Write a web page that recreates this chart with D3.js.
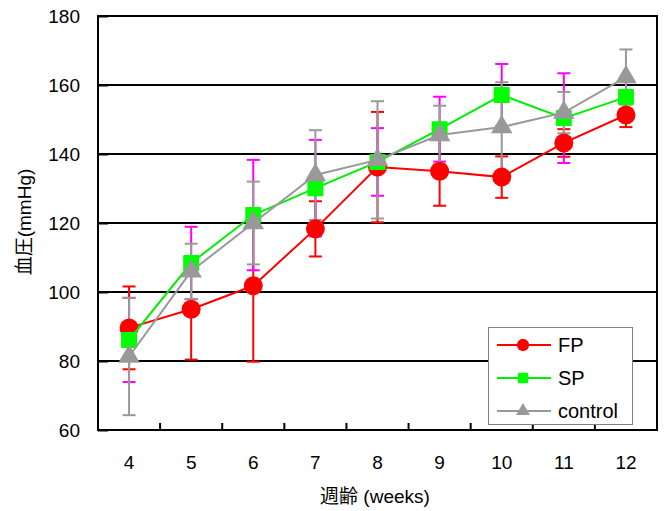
<!DOCTYPE html>
<html>
<head>
<meta charset="utf-8">
<script src="https://cdn.jsdelivr.net/npm/d3@7"></script>
<style>
body { margin: 0; background: #fff; }
text { font-family: "Liberation Sans", Arial, "Noto Sans CJK JP", sans-serif; }
</style>
</head>
<body>
<script>
// data
var weeks = ["4","5","6","7","8","9","10","11","12"];
var fp     = [89.6, 95.0, 101.8, 118.3, 136.2, 135.0, 133.3, 143.2, 151.3];
var fpErr  = [12, 14.6, 22, 8, 16, 10, 6, 4, 3.5];
var sp     = [86.1, 108.4, 122.3, 130.1, 137.7, 147.2, 157.1, 150.4, 156.5];
var spErr  = [12.2, 10.5, 16, 14, 9.8, 9.4, 9, 13, 5.3];
var ctl    = [81.3, 106.0, 120.0, 133.9, 138.3, 145.5, 147.8, 152.0, 162.3];
var ctlErr = [17, 8, 12, 13, 17, 8.5, 13, 6, 8];
var yTicks = [60, 80, 100, 120, 140, 160, 180];

var width = 664, height = 511;
var pLeft = 98, pRight = 657, pTop = 16, pBottom = 430;

var svg = d3.select("body").append("svg")
  .attr("width", width)
  .attr("height", height);

var x = d3.scaleBand().domain(weeks).range([pLeft, pRight]).padding(0);
var y = d3.scaleLinear().domain([60, 180]).range([pBottom, pTop]);
var cx = function(d, i){ return x(weeks[i]) + x.bandwidth()/2; };

// grid lines
svg.append("g").selectAll("line").data(yTicks.slice(1, -1)).enter().append("line")
  .attr("x1", pLeft).attr("x2", pRight)
  .attr("y1", d => y(d)).attr("y2", d => y(d))
  .attr("stroke", "#000").attr("stroke-width", 2);

// y axis
var yAxis = d3.axisLeft(y).tickValues(yTicks).tickSizeInner(-10).tickSizeOuter(0).tickPadding(18);
var gy = svg.append("g").attr("transform", "translate(" + pLeft + ",0)").call(yAxis);
gy.selectAll("line").attr("stroke", "#000").attr("stroke-width", 2);
gy.select(".domain").remove();
gy.selectAll("text").attr("font-size", 19).attr("fill", "#000")
  .style("font-family", '"Liberation Sans", Arial, sans-serif');

// x axis labels
var xAxis = d3.axisBottom(x).tickSize(0).tickPadding(26);
var gx = svg.append("g").attr("transform", "translate(0," + pBottom + ")").call(xAxis);
gx.select(".domain").remove();
gx.selectAll("text").attr("font-size", 19).attr("fill", "#000")
  .style("font-family", '"Liberation Sans", Arial, sans-serif');

// x ticks at category boundaries
svg.append("g").selectAll("line").data(weeks.slice(1)).enter().append("line")
  .attr("x1", d => x(d)).attr("x2", d => x(d))
  .attr("y1", pBottom).attr("y2", pBottom - 7)
  .attr("stroke", "#000").attr("stroke-width", 2);

// plot frame
svg.append("rect")
  .attr("x", pLeft).attr("y", pTop)
  .attr("width", pRight - pLeft).attr("height", pBottom - pTop)
  .attr("fill", "none").attr("stroke", "#000").attr("stroke-width", 2);

var series = [
  {vals: fp,  err: fpErr,  line: "#ff0000", bar: "#ff0000", fill: "#ff0000", sym: "circle"},
  {vals: sp,  err: spErr,  line: "#00ee00", bar: "#ff00ff", fill: "#00ff00", sym: "square"},
  {vals: ctl, err: ctlErr, line: "#999999", bar: "#999999", fill: "#999999", sym: "triangle"}
];

// error bars
series.forEach(function(s){
  var g = svg.append("g").attr("stroke", s.bar).attr("stroke-width", 2);
  s.vals.forEach(function(v, i){
    var px = cx(v, i), lo = y(v - s.err[i]), hi = y(v + s.err[i]);
    g.append("line").attr("x1", px).attr("x2", px).attr("y1", lo).attr("y2", hi);
    g.append("line").attr("x1", px - 6.5).attr("x2", px + 6.5).attr("y1", lo).attr("y2", lo);
    g.append("line").attr("x1", px - 6.5).attr("x2", px + 6.5).attr("y1", hi).attr("y2", hi);
  });
});

var line = d3.line().x(cx).y(d => y(d));

function marker(g, s, px, py, scale){
  if (s.sym === "circle") {
    g.append("circle").attr("cx", px).attr("cy", py).attr("r", 9.5 * scale).attr("fill", s.fill);
  } else if (s.sym === "square") {
    var h = 8 * scale;
    g.append("rect").attr("x", px - h).attr("y", py - h).attr("width", 2*h).attr("height", 2*h)
      .attr("rx", 1).attr("fill", s.fill);
  } else {
    g.append("path").attr("transform", "translate(" + px + "," + py + ")")
      .attr("d", d3.symbol().type(d3.symbolTriangle).size(200 * scale * scale)).attr("fill", s.fill);
  }
}

series.forEach(function(s){
  svg.append("path").datum(s.vals)
    .attr("d", line).attr("fill", "none")
    .attr("stroke", s.line).attr("stroke-width", 2);
  var g = svg.append("g");
  s.vals.forEach(function(v, i){ marker(g, s, cx(v, i), y(v), 1); });
});

// legend
var names = ["FP", "SP", "control"];
var lg = svg.append("g");
lg.append("rect").attr("x", 488.5).attr("y", 327.5).attr("width", 144).attr("height", 97)
  .attr("fill", "#fff").attr("stroke", "#808080").attr("stroke-width", 1);
series.forEach(function(s, i){
  var ly = 345 + i * 33;
  lg.append("line").attr("x1", 497).attr("x2", 551).attr("y1", ly).attr("y2", ly)
    .attr("stroke", s.line).attr("stroke-width", 2);
  marker(lg, s, 523, ly, 0.65);
  lg.append("text").attr("x", 558).attr("y", ly + 7).attr("font-size", 20).text(names[i]);
});

// axis titles
svg.append("text").attr("x", 375).attr("y", 503).attr("text-anchor", "middle")
  .attr("font-size", 19).text("週齢 (weeks)");
svg.append("text").attr("transform", "translate(31,222) rotate(-90)")
  .attr("text-anchor", "middle").attr("font-size", 19).text("血圧(mmHg)");
</script>
</body>
</html>
